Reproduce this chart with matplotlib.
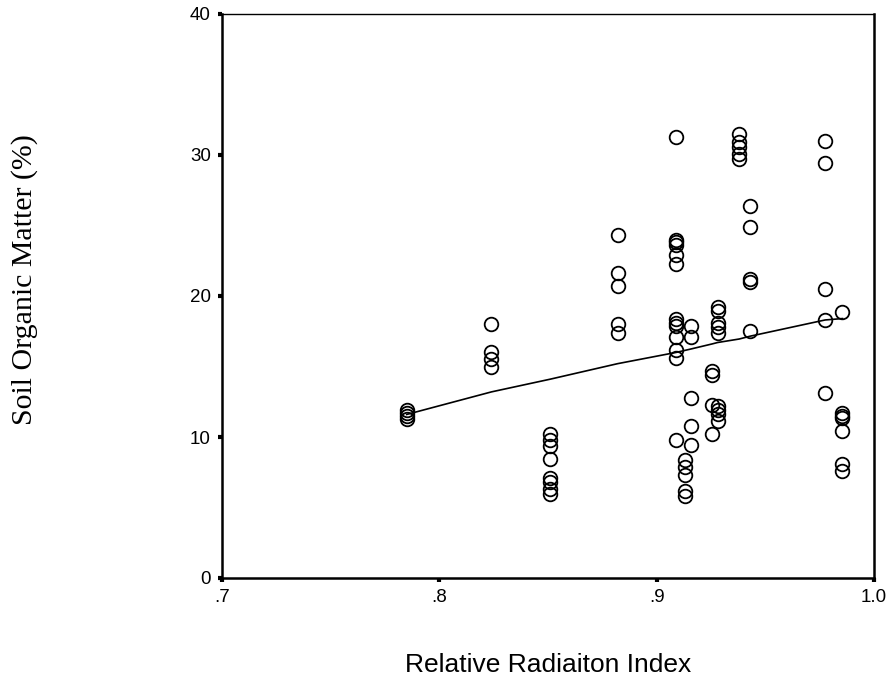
import numpy as np
import matplotlib.pyplot as plt

# Relative radiation index groups and soil organic matter (%)
x_785 = [0.785] * 4
y_785 = [11.95, 11.7, 11.5, 11.25]
x_824 = [0.824] * 4
y_824 = [18.0, 16.0, 15.5, 15.0]
x_851 = [0.851] * 8
y_851 = [10.2, 9.8, 9.35, 8.45, 7.1, 6.8, 6.3, 5.95]
x_882 = [0.882] * 5
y_882 = [24.3, 21.6, 20.7, 18.0, 17.4]
x_909 = [0.909] * 13
y_909 = [31.3, 24.0, 23.8, 23.6, 22.9, 22.3, 18.4, 18.1, 17.9, 17.1, 16.2, 15.6, 9.8]
x_913 = [0.913] * 5
y_913 = [8.4, 7.9, 7.3, 6.2, 5.85]
x_916 = [0.916] * 5
y_916 = [17.9, 17.1, 12.8, 10.8, 9.4]
x_925 = [0.9255] * 4
y_925 = [14.7, 14.4, 12.3, 10.2]
x_928 = [0.928] * 9
y_928 = [19.2, 18.95, 18.1, 17.8, 17.4, 12.2, 11.95, 11.6, 11.1]
x_938 = [0.938] * 5
y_938 = [31.5, 30.9, 30.6, 30.1, 29.7]
x_943 = [0.943] * 5
y_943 = [26.4, 24.9, 21.2, 21.0, 17.5]
x_977 = [0.9775] * 5
y_977 = [31.0, 29.4, 20.5, 18.3, 13.1]
x_986 = [0.9855] * 7
y_986 = [18.9, 11.7, 11.5, 11.35, 10.45, 8.1, 7.6]

# fit line
fit_x = [0.785, 0.824, 0.851, 0.882, 0.909, 0.916, 0.9255, 0.928, 0.938, 0.943, 0.9775, 0.9855]
fit_y = [11.6, 13.2, 14.1, 15.2, 16.0, 16.25, 16.6, 16.7, 16.95, 17.15, 18.3, 18.4]

xs = np.concatenate([x_785, x_824, x_851, x_882, x_909, x_913, x_916,
                     x_925, x_928, x_938, x_943, x_977, x_986])
ys = np.concatenate([y_785, y_824, y_851, y_882, y_909, y_913, y_916,
                     y_925, y_928, y_938, y_943, y_977, y_986])

x_ticks = [0.7, 0.8, 0.9, 1.0]
x_tick_labels = ['.7', '.8', '.9', '1.0']
y_ticks = [0, 10, 20, 30, 40]

fig = plt.figure(figsize=(8.88, 6.77), dpi=100)
ax = fig.add_axes([222 / 888, 1 - 578 / 677, (874 - 222) / 888, (578 - 14) / 677])

ax.plot(fit_x, fit_y, color='black', linewidth=1.2)
ax.plot(xs, ys, linestyle='none', marker='o', markersize=9.8,
        markerfacecolor='none', markeredgecolor='black', markeredgewidth=1.3)

ax.set_xlim(0.7, 1.0)
ax.set_ylim(0, 40)
ax.set_xticks(x_ticks)
ax.set_xticklabels(x_tick_labels)
ax.set_yticks(y_ticks)
ax.tick_params(direction='out', length=3, width=3, labelsize=13.5, pad=5)
for lab in ax.get_xticklabels() + ax.get_yticklabels():
    lab.set_family('Liberation Sans')

for side in ['left', 'bottom', 'right']:
    ax.spines[side].set_linewidth(1.8)
ax.spines['top'].set_linewidth(1.0)

fig.text(548 / 888, 1 - 665 / 677, 'Relative Radiaiton Index', ha='center', va='center',
         fontsize=19, family='Liberation Sans')
fig.text(25 / 888, 1 - 280 / 677, 'Soil Organic Matter (%)', ha='center', va='center',
         rotation=90, fontsize=21.5, family='Liberation Serif')

fig.savefig('out.png', dpi=100)
